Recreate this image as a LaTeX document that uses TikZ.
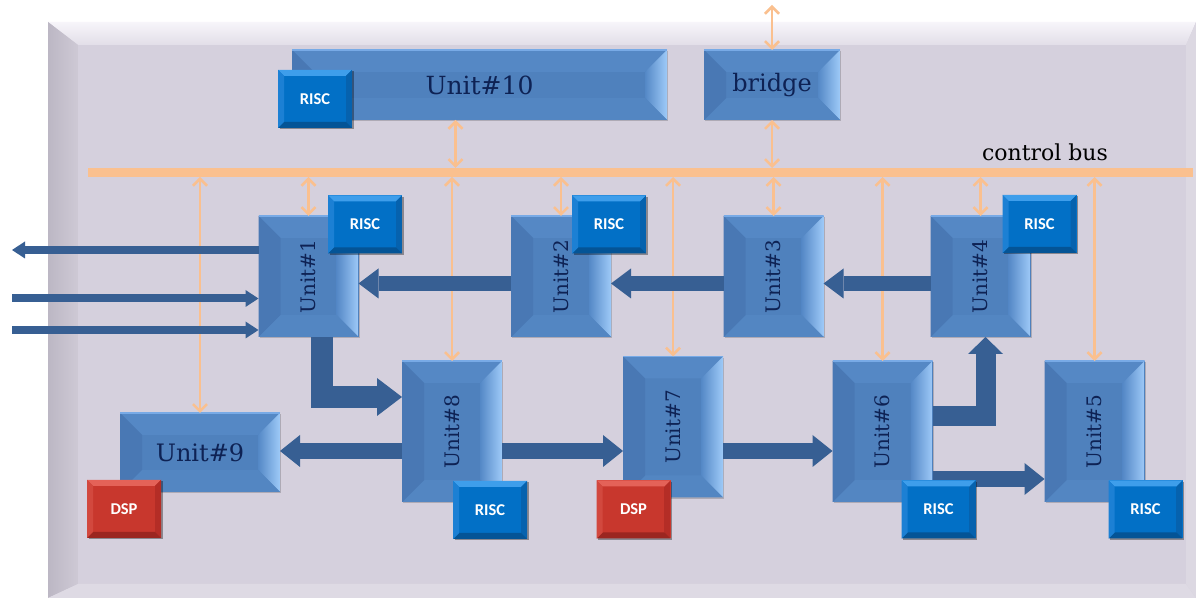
\documentclass[tikz,border=0pt]{standalone}
\usepackage{fontspec}
\usepackage{graphicx}
\usetikzlibrary{arrows.meta,shadows}
\newfontfamily\ufont{DejaVu Serif}
\newfontfamily\lfont{Carlito}
\definecolor{panelface}{RGB}{213,208,221}
\definecolor{paneltopA}{RGB}{247,245,250}
\definecolor{paneltopB}{RGB}{226,222,232}
\definecolor{panelleftA}{RGB}{188,183,196}
\definecolor{panelleftB}{RGB}{206,201,213}
\definecolor{panelbot}{RGB}{222,218,228}
\definecolor{panelright}{RGB}{220,216,226}
\definecolor{ubface}{RGB}{79,129,189}
\definecolor{ubtop}{RGB}{85,136,197}
\definecolor{ubleft}{RGB}{73,120,180}
\definecolor{ubbot}{RGB}{83,134,194}
\definecolor{ubrA}{RGB}{84,136,198}
\definecolor{ubrB}{RGB}{158,202,248}
\definecolor{ubedge}{RGB}{120,170,230}
\definecolor{utext}{RGB}{14,34,84}
\definecolor{rface}{RGB}{2,112,198}
\definecolor{rtop}{RGB}{62,158,235}
\definecolor{rleft}{RGB}{28,128,212}
\definecolor{rright}{RGB}{6,98,174}
\definecolor{rbot}{RGB}{4,84,150}
\definecolor{dface}{RGB}{200,55,45}
\definecolor{dtop}{RGB}{228,98,88}
\definecolor{dleft}{RGB}{210,72,62}
\definecolor{dright}{RGB}{180,45,38}
\definecolor{dbot}{RGB}{155,38,32}
\definecolor{orangec}{RGB}{250,192,143}
\definecolor{arrowblue}{RGB}{55,95,147}
\newcommand\bvl[6]{%
 \fill[#1] (path picture bounding box.north west) -- (path picture bounding box.north east) -- ([shift={(-#6,-#6)}]path picture bounding box.north east) -- ([shift={(#6,-#6)}]path picture bounding box.north west) -- cycle;
 \shade[left color=#2, right color=#3] (path picture bounding box.north east) -- (path picture bounding box.south east) -- ([shift={(-#6,#6)}]path picture bounding box.south east) -- ([shift={(-#6,-#6)}]path picture bounding box.north east) -- cycle;
 \fill[#4] (path picture bounding box.south west) -- (path picture bounding box.south east) -- ([shift={(-#6,#6)}]path picture bounding box.south east) -- ([shift={(#6,#6)}]path picture bounding box.south west) -- cycle;
 \fill[#5] (path picture bounding box.north west) -- (path picture bounding box.south west) -- ([shift={(#6,#6)}]path picture bounding box.south west) -- ([shift={(#6,-#6)}]path picture bounding box.north west) -- cycle;
}
\tikzset{
 unit/.style={fill=ubface, inner sep=0pt, outer sep=0pt, text=utext,
   font=\ufont\fontsize{24}{28}\selectfont,
   path picture={\bvl{ubtop}{ubrA}{ubrB}{ubbot}{ubleft}{22pt}
     \draw[ubedge, line width=1.5pt] (path picture bounding box.north west) -- (path picture bounding box.north east);},
   drop shadow={shadow xshift=1pt, shadow yshift=-1.5pt, opacity=0.18, fill=black}},
 vunit/.style={unit, minimum width=100pt, minimum height=121pt, font=\ufont\fontsize{20}{24}\selectfont},
 tunit/.style={vunit, minimum height=141pt},
 risc/.style={fill=rface, inner sep=0pt, outer sep=0pt, minimum width=74pt, minimum height=58pt,
   text=white, font=\lfont\bfseries\fontsize{16.5}{18}\selectfont,
   path picture={\bvl{rtop}{rright}{rright}{rbot}{rleft}{6pt}},
   drop shadow={shadow xshift=1.5pt, shadow yshift=-1.5pt, opacity=0.35, fill=black}},
 dsp/.style={risc, fill=dface, path picture={\bvl{dtop}{dright}{dright}{dbot}{dleft}{6pt}}},
 busbar/.style={fill=orangec, inner sep=0pt, outer sep=0pt, minimum width=1105pt, minimum height=9pt},
 obus/.style={draw=orangec, line width=2.6pt,
   {Straight Barb[length=7pt,width=14pt]}-{Straight Barb[length=7pt,width=14pt]}},
 flow/.style={draw=arrowblue, line width=15pt, -{Triangle[length=20pt,width=30pt,line width=0pt]}},
 wflow/.style={draw=arrowblue, line width=16pt, -{Triangle[length=20pt,width=32pt,line width=0pt]}},
 tflow/.style={draw=arrowblue, line width=8pt, -{Triangle[length=13pt,width=17pt,line width=0pt]}},
 lflowA/.style={draw=arrowblue, line width=22pt, -{Triangle[length=25pt,width=38pt,line width=0pt]}},
 lflowB/.style={draw=arrowblue, line width=20pt, -{Triangle[length=17pt,width=35pt,line width=0pt]}},
}
\begin{document}
\begin{tikzpicture}[x=1pt,y=1pt]
\useasboundingbox (0,0) rectangle (1196,604);
\fill[white] (0,0) rectangle (1196,604);
% background panel with bevel
\fill[panelface] (48,6) rectangle (1196,582);
\shade[top color=paneltopA, bottom color=paneltopB] (48,582) -- (1196,582) -- (1186,559) -- (78,559) -- cycle;
\shade[left color=panelleftA, right color=panelleftB] (48,582) -- (78,559) -- (78,20) -- (48,6) -- cycle;
\fill[panelbot] (48,6) -- (78,20) -- (1186,20) -- (1196,6) -- cycle;
\fill[panelright] (1196,582) -- (1186,559) -- (1186,20) -- (1196,6) -- cycle;

% control bus
\node[busbar] (bus) at (640.5,431.5) {};
\node[font=\ufont\fontsize{22}{26}\selectfont, text=black] (cbus) at (1045,452) {control bus};

% units
\node[unit, minimum width=375pt, minimum height=70pt, font=\ufont\fontsize{25}{30}\selectfont] (u10) at (479.5,519) {Unit\#10};
\node[unit, minimum width=136pt, minimum height=70pt, font=\ufont\fontsize{24}{28}\selectfont] (bridge) at (772,519) {bridge};
\node[vunit] (u1) at (308.5,327.5) {\rotatebox{90}{Unit\#1}};
\node[vunit] (u2) at (561,327.5) {\rotatebox{90}{Unit\#2}};
\node[vunit] (u3) at (773.5,327.5) {\rotatebox{90}{Unit\#3}};
\node[vunit] (u4) at (980.5,327.5) {\rotatebox{90}{Unit\#4}};
\node[tunit] (u8) at (452,172.5) {\rotatebox{90}{Unit\#8}};
\node[tunit] (u7) at (673,177) {\rotatebox{90}{Unit\#7}};
\node[tunit] (u6) at (882.5,172.5) {\rotatebox{90}{Unit\#6}};
\node[tunit] (u5) at (1094.5,172.5) {\rotatebox{90}{Unit\#5}};
\node[unit, minimum width=160pt, minimum height=79pt] (u9) at (200,151.5) {Unit\#9};

% control bus connectors
\coordinate (topend) at (772,599);
\draw[obus] (topend) -- (bridge.north);
\path ([xshift=-24pt]u10.south) coordinate (u10b);
\draw[obus] (u10b) -- (u10b |- bus.north);
\draw[obus] (bridge.south) -- (bridge.south |- bus.north);
\foreach \n in {u9,u1,u8,u2,u7,u3,u6,u4,u5}
  \draw[obus] (bus.south -| \n.north) -- (\n.north);

% external data arrows
\coordinate (out1) at (12,354);
\coordinate (in1) at (12,305.5);
\coordinate (in2) at (12,274);
\draw[tflow] ([yshift=26.5pt]u1.west) -- (out1);
\draw[tflow] (in1) -- (in1 -| u1.west);
\draw[tflow] (in2) -- (in2 -| u1.west);

% data flow row 1
\path ([yshift=-7pt]u2.west) coordinate (a21)
      ([yshift=-7pt]u3.west) coordinate (a32)
      ([yshift=-7pt]u4.west) coordinate (a43);
\draw[flow] (a21) -- (a21 -| u1.east);
\draw[flow] (a32) -- (a32 -| u2.east);
\draw[flow] (a43) -- (a43 -| u3.east);

% data flow row 2
\path ([yshift=-19.5pt]u8.east) coordinate (a87)
      ([yshift=-19.5pt]u8.west) coordinate (a89)
      ([yshift=-24pt]u7.east) coordinate (a76)
      ([yshift=-47.5pt]u6.east) coordinate (a65)
      ([yshift=15pt]u6.east) coordinate (a64)
      ([xshift=5pt]u4.south) coordinate (b64)
      ([xshift=13pt]u1.south) coordinate (a18)
      ([yshift=34.5pt]u8.west) coordinate (b18);
\draw[wflow] (a87) -- (a87 -| u7.west);
\draw[wflow] (a89) -- (a89 -| u9.east);
\draw[wflow] (a76) -- (a76 -| u6.west);
\draw[wflow] (a65) -- (a65 -| u5.west);
\draw[lflowA] (a18) |- (b18);
\draw[lflowB] (a64) -| (b64);

% processors
\node[risc] (r10) at (315,505) {RISC};
\node[risc] (r1) at (365,379.5) {RISC};
\node[risc] (r2) at (609,379.5) {RISC};
\node[risc] (r4) at (1039.5,380) {RISC};
\node[risc] (r8) at (490,94) {RISC};
\node[dsp] (d7) at (633.5,94.5) {DSP};
\node[risc] (r6) at (938.5,94.5) {RISC};
\node[risc] (r5) at (1145.5,94.5) {RISC};
\node[dsp] (d9) at (124,95) {DSP};
\end{tikzpicture}
\end{document}
